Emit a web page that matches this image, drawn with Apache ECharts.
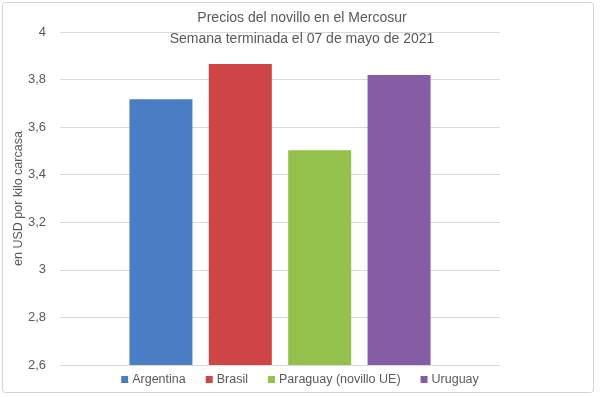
<!DOCTYPE html>
<html>
<head>
<meta charset="utf-8">
<script src="https://cdn.jsdelivr.net/npm/echarts@6/dist/echarts.min.js"></script>
<style>
html,body{margin:0;padding:0;background:#fff;}
#c{width:600px;height:397px;}
</style>
</head>
<body>
<div id="c"></div>
<script>
const titleLines = ['Precios del novillo en el Mercosur', 'Semana terminada el 07 de mayo de 2021'];
const yAxisName = 'en USD por kilo carcasa';
const seriesNames = ['Argentina', 'Brasil', 'Paraguay (novillo UE)', 'Uruguay'];
const seriesValues = [3.717, 3.865, 3.503, 3.819];
const seriesColors = ['#4a7ec4', '#cf4545', '#93c14c', '#875ca6'];
const yMin = 2.6, yMax = 4, yStep = 0.2;

const chart = echarts.init(document.getElementById('c'));
const font = '"Liberation Sans", Arial, sans-serif';
chart.setOption({
  animation: false,
  backgroundColor: '#fff',
  textStyle: { fontFamily: font },
  title: {
    text: titleLines.join('\n'),
    left: 297, top: 3, textAlign: 'center',
    textStyle: { fontSize: 14, fontWeight: 'normal', color: '#595959', lineHeight: 21, fontFamily: font }
  },
  legend: {
    data: seriesNames,
    bottom: 6, left: 'center',
    icon: 'rect', itemWidth: 7, itemHeight: 7, itemGap: 20,
    textStyle: { fontSize: 12.5, color: '#595959', fontFamily: font, padding: [0,0,0,-1] }
  },
  grid: { left: 60, right: 100, top: 32, bottom: 32 },
  xAxis: {
    type: 'category', data: [''],
    axisLine: { show: false }, axisTick: { show: false }, axisLabel: { show: false }
  },
  yAxis: {
    type: 'value', min: yMin, max: yMax, interval: yStep,
    name: yAxisName, nameLocation: 'middle', nameGap: 35, nameRotate: 90,
    nameMoveOverlap: false,
    nameTextStyle: { fontSize: 12.5, color: '#595959', fontFamily: font },
    axisLine: { show: false }, axisTick: { show: false },
    axisLabel: { fontSize: 13, color: '#595959', margin: 14,
      formatter: v => String(Math.round(v * 10) / 10).replace('.', ',') },
    splitLine: { lineStyle: { color: '#d9d9d9', width: 1 } }
  },
  graphic: [{
    type: 'rect', shape: { x: 2.5, y: 2.5, width: 591, height: 390, r: 3 },
    style: { fill: null, stroke: '#d4d4d4', lineWidth: 1 }, silent: true, z: -1
  }],
  series: seriesNames.map((n, i) => ({
    name: n, type: 'bar', data: [seriesValues[i]],
    barWidth: 63, barGap: '26%',
    itemStyle: { color: seriesColors[i] }
  }))
});
</script>
</body>
</html>
